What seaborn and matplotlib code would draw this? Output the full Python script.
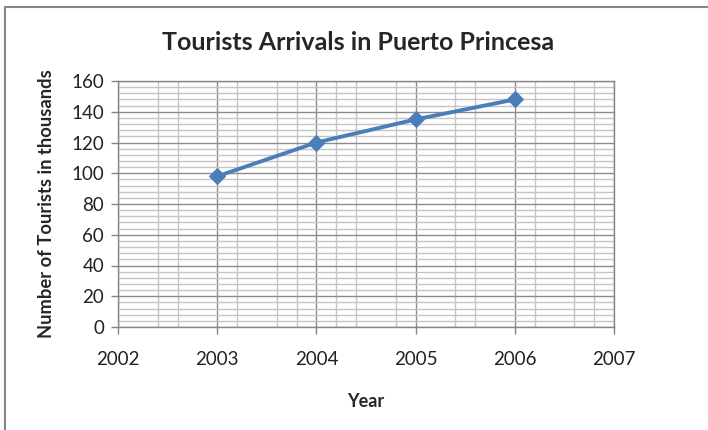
import matplotlib
matplotlib.use("Agg")
import matplotlib.pyplot as plt
import seaborn as sns
import pandas as pd
from matplotlib.patches import Rectangle

years = [2003, 2004, 2005, 2006]
tourists = [98, 120, 135, 148]
x_ticks = [2002, 2003, 2004, 2005, 2006, 2007]
y_ticks = [0, 20, 40, 60, 80, 100, 120, 140, 160]

df = pd.DataFrame({"Year": years, "Tourists": tourists})

sns.set_theme(style="white")
plt.rcParams['font.family'] = ['Lato', 'DejaVu Sans']

fig = plt.figure(figsize=(7.08, 4.30), dpi=100)
ax = fig.add_axes([118/708, 103/430, 496/708, 246/430])

# minor grid positions (as seen in reference)
minor_x = [2002.4, 2002.6, 2003.2, 2003.6, 2003.8, 2004.2, 2004.4, 2004.8,
           2005.4, 2005.6, 2006.2, 2006.6, 2006.8]
minor_y = [v for v in range(0, 161, 4) if v % 20 != 0]
ax.set_xticks(minor_x, minor=True)
ax.set_yticks(minor_y, minor=True)
ax.grid(which="minor", color="#c4c4c4", linewidth=1.0)
ax.grid(which="major", color="#8c8c8c", linewidth=1.0)
ax.set_axisbelow(True)

sns.lineplot(data=df, x="Year", y="Tourists", ax=ax, color="#4a7ebb",
             linewidth=2.8, marker="D", markersize=8, markeredgecolor="#4a7ebb")

ax.set_xlim(2002, 2007)
ax.set_ylim(0, 160)
ax.set_xticks(x_ticks)
ax.set_yticks(y_ticks)
ax.set_xticklabels([str(v) for v in x_ticks])
ax.tick_params(axis="both", which="major", labelsize=13.5, colors="#868686",
               labelcolor="#222222", length=5, width=1, direction="out",
               bottom=True, left=True, pad=5)
ax.tick_params(axis="x", which="major", pad=12)
ax.tick_params(axis="both", which="minor", length=0)
for s in ax.spines.values():
    s.set_color("#868686")
    s.set_linewidth(1.0)

ax.set_xlabel("Year", fontsize=13, fontweight="bold", labelpad=18)
ax.set_ylabel("Number of Tourists in thousands", fontsize=13.2,
              fontweight="bold", labelpad=12)
fig.text(358/708, 1 - 42/430, "Tourists Arrivals in Puerto Princesa",
         ha="center", va="center", fontsize=18, fontweight="bold")

# outer chart frame
fig.patches.append(Rectangle((5/708, -0.05), 1.1, 1 - 7/430 + 0.05,
                             transform=fig.transFigure, fill=False,
                             edgecolor="#868686", linewidth=1.5))

fig.savefig("out.png", dpi=100)
